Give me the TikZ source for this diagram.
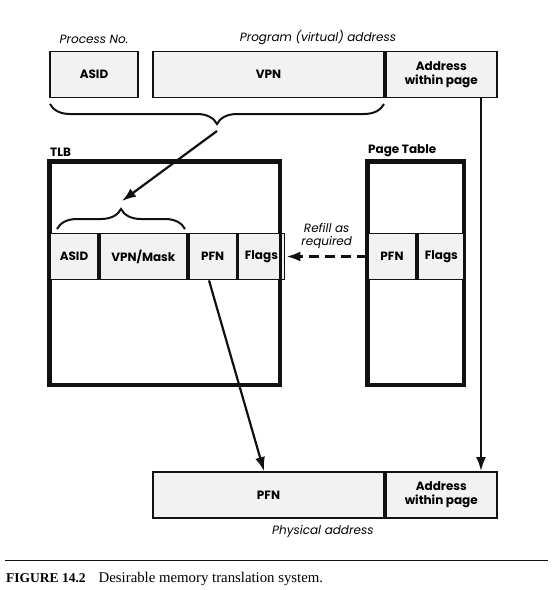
\documentclass[tikz,border=0pt]{standalone}
\usepackage{fontspec}
\setsansfont{Poppins}
\setmainfont{Liberation Serif}
\usepackage{xcolor}
\usetikzlibrary{arrows.meta,positioning,decorations.pathreplacing}
\definecolor{cellbg}{HTML}{F2F2F2}
\definecolor{ink}{HTML}{111111}
\tikzset{
  cell/.style={draw=ink, fill=cellbg, line width=1.8pt, inner sep=0pt, minimum height=46pt,
    align=center, font=\sffamily\bfseries\fontsize{12}{14}\selectfont},
  frame/.style={draw=ink, line width=3pt, inner sep=0pt},
  head/.style={font=\sffamily\bfseries\fontsize{12}{13}\selectfont, anchor=south west, inner sep=0pt},
  lab/.style={font=\sffamily\itshape\fontsize{12}{13}\selectfont, align=center, inner sep=0pt},
  link/.style={draw=ink, line width=2.2pt, -{Latex[length=14pt,width=10pt]}},
  curly/.style={draw=ink, line width=2pt, decorate, decoration={brace, amplitude=20pt}},
}
\begin{document}
\begin{tikzpicture}[x=1pt, y=-1pt]
\useasboundingbox (0,0) rectangle (554,590);

% virtual address
\node[cell, minimum width=88pt] (asid) at (94,74.5) {ASID};
\node[cell, minimum width=231pt] (vpn) at (268.5,74.5) {VPN};
\node[cell, minimum width=111pt, right=0pt of vpn] (voff) {Address\\within page};
\node[lab, above=7pt of asid] (procno) {Process No.};
\node[lab] (virtlab) at (318,38) {Program (virtual) address};
\draw[curly] (384,104) -- (50,104);
\coordinate (bigtip) at (217,131);

% TLB
\node[frame, minimum width=229pt, minimum height=222pt] (tlb) at (164.5,273) {};
\node[head] (tlbname) at (50,157) {TLB};
\node[cell, minimum width=48pt] (tasid) at (74,256.5) {ASID};
\node[cell, minimum width=87pt, right=0pt of tasid] (tvpn) {VPN/Mask};
\node[cell, minimum width=48pt, right=0pt of tvpn] (tpfn) {PFN};
\node[cell, minimum width=46pt, right=0pt of tpfn] (tflags) {Flags};
\draw[frame] (tlb.north west) rectangle (tlb.south east);
\draw[curly] (57,229) -- (185,229);
\coordinate (smalltip) at (122,201);

% page table
\node[frame, minimum width=95pt, minimum height=222pt] (ptab) at (415.5,273) {};
\node[head] (ptname) at (368,157) {Page Table};
\node[cell, minimum width=48pt] (ppfn) at (392,256.5) {PFN};
\node[cell, minimum width=47pt, right=0pt of ppfn] (pflags) {Flags};
\draw[frame] (ptab.north west) rectangle (ptab.south east);

% physical address
\node[cell, minimum width=231pt] (phpfn) at (268.5,495) {PFN};
\node[cell, minimum width=111pt, right=0pt of phpfn] (phoff) {Address\\within page};
\node[lab, below=6pt of phpfn.south east, xshift=-62pt] (physlab) {Physical address};

% connectors
\draw[link] (bigtip) -- (smalltip);
\draw[link, line width=2.8pt, dash pattern=on 10pt off 6pt] (ppfn.west) -- ([xshift=1pt]tflags.east)
  node[lab, midway, above=6pt] (refill) {Refill as\\required};
\draw[link] (voff.south -| 481,0) -- (phoff.north -| 481,0);
\draw[link] (tpfn.south -| 209,0) -- (phpfn.north -| 264,0);

% caption
\draw[ink, line width=1pt] (5,560) -- (548,560);
\node[anchor=west, inner sep=0pt, font=\fontsize{14.8}{16}\selectfont] (caption) at (6,579)
  {{\bfseries\fontsize{13.5}{14}\selectfont FIGURE 14.2}\hspace{13pt}Desirable memory translation system.};
\end{tikzpicture}
\end{document}
